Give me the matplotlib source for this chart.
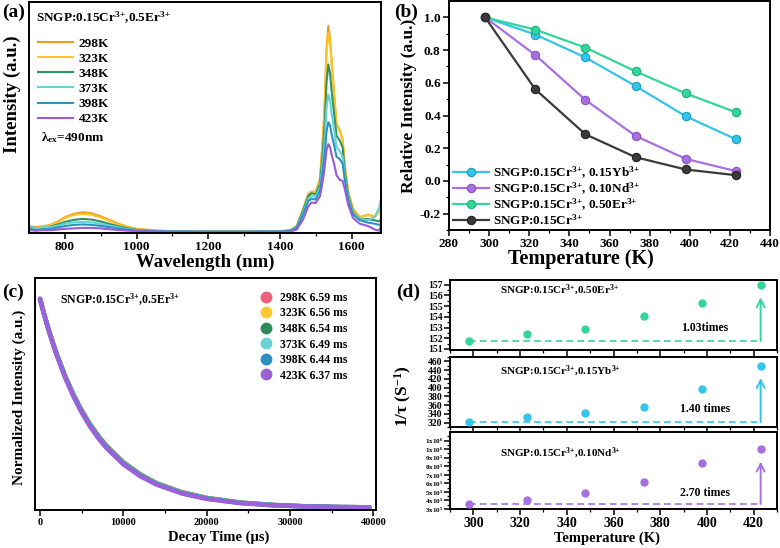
import numpy as np
import matplotlib
matplotlib.use("Agg")
import matplotlib.pyplot as plt
from matplotlib.lines import Line2D

plt.rcParams['font.family'] = ['Liberation Serif', 'DejaVu Serif']
plt.rcParams['font.weight'] = 'bold'
plt.rcParams['axes.labelweight'] = 'bold'
plt.rcParams['mathtext.fontset'] = 'custom'
plt.rcParams['mathtext.rm'] = 'Liberation Serif:bold'
plt.rcParams['mathtext.it'] = 'Liberation Serif:bold:italic'
plt.rcParams['mathtext.bf'] = 'Liberation Serif:bold'

# ---------------- data ----------------
temps_label = ['298K', '323K', '348K', '373K', '398K', '423K']
spec_colors = ['#F39A1C', '#FFC428', '#2E9460', '#62D3DA', '#2C93BE', '#9A5ADB']

wl = [700, 720, 740, 760, 780, 800, 825, 850, 875, 900, 925, 950, 975, 1000, 1050,
      1100, 1200, 1300, 1400, 1430, 1447, 1465, 1479, 1488, 1500, 1512, 1521, 1526,
      1530, 1535, 1540, 1544, 1551, 1558, 1567, 1575, 1581, 1591, 1604, 1623, 1646,
      1665, 1677, 1682]
I298 = [0.03, 0.025, 0.03, 0.035, 0.05, 0.068, 0.083, 0.09, 0.085, 0.072, 0.056, 0.04,
        0.027, 0.018, 0.011, 0.008, 0.006, 0.006, 0.007, 0.012, 0.03, 0.105, 0.168, 0.18,
        0.177, 0.235, 0.44, 0.6, 0.8, 0.896, 0.84, 0.75, 0.61, 0.47, 0.445, 0.405, 0.29,
        0.175, 0.105, 0.068, 0.08, 0.07, 0.10, 0.13]
I323 = [0.025, 0.02, 0.028, 0.033, 0.047, 0.064, 0.078, 0.083, 0.079, 0.067, 0.052,
        0.037, 0.025, 0.017, 0.01, 0.008, 0.006, 0.006, 0.007, 0.012, 0.03, 0.10, 0.165,
        0.178, 0.175, 0.232, 0.43, 0.59, 0.78, 0.865, 0.82, 0.74, 0.6, 0.465, 0.44, 0.40,
        0.285, 0.17, 0.1, 0.07, 0.078, 0.072, 0.09, 0.11]
I348 = [0.02, 0.018, 0.022, 0.027, 0.037, 0.048, 0.057, 0.061, 0.058, 0.05, 0.039,
        0.029, 0.02, 0.014, 0.009, 0.007, 0.006, 0.006, 0.007, 0.011, 0.028, 0.098, 0.16,
        0.172, 0.168, 0.215, 0.38, 0.5, 0.65, 0.73, 0.69, 0.62, 0.52, 0.42, 0.40, 0.37,
        0.265, 0.16, 0.09, 0.06, 0.06, 0.055, 0.05, 0.06]
I373 = [0.03, 0.02, 0.025, 0.025, 0.032, 0.04, 0.046, 0.048, 0.046, 0.04, 0.032, 0.024,
        0.017, 0.012, 0.008, 0.007, 0.006, 0.006, 0.007, 0.011, 0.025, 0.09, 0.148, 0.16,
        0.157, 0.2, 0.33, 0.43, 0.54, 0.60, 0.575, 0.52, 0.45, 0.37, 0.355, 0.33, 0.245,
        0.15, 0.085, 0.06, 0.055, 0.07, 0.11, 0.15]
I398 = [0.015, 0.012, 0.015, 0.018, 0.024, 0.03, 0.035, 0.037, 0.035, 0.031, 0.025,
        0.019, 0.014, 0.01, 0.007, 0.006, 0.005, 0.005, 0.006, 0.01, 0.022, 0.082, 0.138,
        0.148, 0.145, 0.185, 0.29, 0.36, 0.44, 0.48, 0.465, 0.43, 0.38, 0.33, 0.32, 0.30,
        0.23, 0.14, 0.08, 0.055, 0.045, 0.04, 0.035, 0.04]
I423 = [0.012, 0.01, 0.012, 0.012, 0.015, 0.018, 0.02, 0.022, 0.022, 0.02, 0.016,
        0.013, 0.01, 0.008, 0.006, 0.005, 0.005, 0.005, 0.005, 0.007, 0.015, 0.06, 0.115,
        0.132, 0.13, 0.16, 0.24, 0.3, 0.36, 0.385, 0.37, 0.34, 0.3, 0.25, 0.23, 0.225,
        0.19, 0.12, 0.065, 0.04, 0.03, 0.015, 0.01, 0.03]
spectra = [I298, I323, I348, I373, I398, I423]

T = [298, 323, 348, 373, 398, 423]
rel_yb = [1.0, 0.895, 0.755, 0.58, 0.395, 0.255]
rel_nd = [1.0, 0.77, 0.495, 0.275, 0.135, 0.06]
rel_er = [1.0, 0.925, 0.815, 0.67, 0.535, 0.42]
rel_cr = [1.0, 0.56, 0.285, 0.145, 0.07, 0.035]

t_decay = [0, 500, 1000, 1500, 2000, 3000, 4000, 5000, 6000, 7000, 8000, 10000, 12000,
           14000, 17000, 20000, 24000, 28000, 32000, 36000, 39500]
d298 = [1.0, 0.927, 0.859, 0.797, 0.738, 0.634, 0.545, 0.468, 0.402, 0.346, 0.297, 0.219,
        0.162, 0.119, 0.076, 0.048, 0.026, 0.014, 0.008, 0.004, 0.003]
d323 = [1.0, 0.927, 0.858, 0.796, 0.737, 0.633, 0.543, 0.466, 0.401, 0.344, 0.295, 0.218,
        0.161, 0.118, 0.075, 0.047, 0.026, 0.014, 0.008, 0.004, 0.003]
d348 = [1.0, 0.926, 0.858, 0.795, 0.736, 0.632, 0.542, 0.465, 0.399, 0.343, 0.294, 0.217,
        0.160, 0.117, 0.074, 0.047, 0.025, 0.014, 0.007, 0.004, 0.003]
d373 = [1.0, 0.926, 0.857, 0.794, 0.735, 0.630, 0.540, 0.463, 0.397, 0.340, 0.291, 0.214,
        0.157, 0.116, 0.073, 0.046, 0.025, 0.013, 0.007, 0.004, 0.003]
d398 = [1.0, 0.925, 0.856, 0.792, 0.733, 0.628, 0.537, 0.460, 0.394, 0.337, 0.289, 0.212,
        0.155, 0.114, 0.071, 0.045, 0.024, 0.013, 0.007, 0.004, 0.003]
d423 = [1.0, 0.924, 0.855, 0.790, 0.731, 0.624, 0.534, 0.456, 0.390, 0.333, 0.285, 0.208,
        0.152, 0.111, 0.069, 0.043, 0.023, 0.012, 0.007, 0.004, 0.003]
decays = [d298, d323, d348, d373, d398, d423]
lifetimes = ['6.59 ms', '6.56 ms', '6.54 ms', '6.49 ms', '6.44 ms', '6.37 ms']
decay_colors = ['#EF5F7A', '#FFC832', '#2E8B57', '#6AD3D3', '#2A8FBF', '#9C60D8']

inv_er = [151.75, 152.42, 152.88, 154.06, 155.28, 157.0]
inv_yb = [321, 332, 342.5, 355.5, 397.6, 450.5]
inv_nd = [3.6e5, 4.1e5, 4.9e5, 6.2e5, 8.33e5, 1.0e6]
nd_ticks = [3e5, 4e5, 5e5, 6e5, 7e5, 8e5, 9e5, 1.0e6, 1.1e6]
nd_ticklabels = ['3x10$^5$', '4x10$^5$', '5x10$^5$', '6x10$^5$', '7x10$^5$',
                 '8x10$^5$', '9x10$^5$', '1x10$^6$', '1x10$^6$']

c_yb = '#33C5EA'
c_nd = '#A76FE2'
c_er = '#33D69A'
c_cr = '#3A3A3A'

# ---------------- layout ----------------
W, H = 780, 548
fig = plt.figure(figsize=(W / 100, H / 100), dpi=100)


def rect(l, t, r, b):
    return [l / W, 1 - b / H, (r - l) / W, (b - t) / H]


def style(ax, size=8):
    for s in ax.spines.values():
        s.set_linewidth(1.4)
    ax.tick_params(direction='out', length=4, width=1.1, labelsize=size, pad=2)
    ax.tick_params(which='minor', direction='out', length=2, width=0.9)


def place_labels(ax, xpos, ypos):
    ax.xaxis.set_label_coords(*xpos)
    ax.xaxis.label.set_va('center')
    if ypos is not None:
        ax.yaxis.set_label_coords(*ypos)
        ax.yaxis.label.set_va('center')


# ---------------- (a) ----------------
axa = fig.add_axes(rect(29, 2, 381, 233))
style(axa, 9.5)
for y, c, lab in zip(spectra, spec_colors, temps_label):
    axa.plot(wl, y, color=c, lw=1.5, label=lab)
axa.set_xlim(700, 1682)
axa.set_ylim(0, 1)
axa.set_yticks([])
axa.set_xticks([800, 1000, 1200, 1400, 1600])
axa.set_xticks([900, 1100, 1300, 1500], minor=True)
axa.set_xlabel('Wavelength (nm)', fontsize=13.5)
axa.set_ylabel('Intensity (a.u.)', fontsize=13.5)
place_labels(axa, (0.5, -0.128), (-0.048, 0.6))
axa.text(0.02, 0.93, 'SNGP:0.15Cr$^{3{+}}$,0.5Er$^{3{+}}$', transform=axa.transAxes,
         fontsize=9.5, va='center')
axa.legend(loc='upper left', bbox_to_anchor=(0.025, 0.847), frameon=False, fontsize=9.5,
           handlelength=2.7, handletextpad=0.4, labelspacing=0.22, borderaxespad=0,
           borderpad=0)
axa.text(0.033, 0.415, 'λ$_{\\mathrm{ex}}$=490nm', transform=axa.transAxes,
         fontsize=9.5, va='center')
fig.text(2 / W, 1 - 12 / H, '(a)', fontsize=14, va='center')

# ---------------- (b) ----------------
axb = fig.add_axes(rect(449, 1, 770, 230))
style(axb, 9.5)
mk = dict(marker='o', ms=6, lw=1.6, mew=0.8)
axb.plot(T, rel_yb, color=c_yb, mec='#1E9CC0', label='SNGP:0.15Cr$^{3{+}}$, 0.15Yb$^{3{+}}$', **mk)
axb.plot(T, rel_nd, color=c_nd, mec='#8A52C6', label='SNGP:0.15Cr$^{3{+}}$, 0.10Nd$^{3{+}}$', **mk)
axb.plot(T, rel_er, color=c_er, mec='#20B07A', label='SNGP:0.15Cr$^{3{+}}$, 0.50Er$^{3{+}}$', **mk)
axb.plot(T, rel_cr, color=c_cr, mec='#222222', label='SNGP:0.15Cr$^{3{+}}$', **mk)
axb.set_xlim(280, 440)
axb.set_ylim(-0.3, 1.1)
axb.set_xticks(np.arange(280, 441, 20))
axb.set_xticks(np.arange(290, 440, 20), minor=True)
axb.set_yticks([-0.2, 0.0, 0.2, 0.4, 0.6, 0.8, 1.0])
axb.set_yticks([-0.3, -0.1, 0.1, 0.3, 0.5, 0.7, 0.9], minor=True)
axb.yaxis.set_major_formatter(matplotlib.ticker.FormatStrFormatter('%.1f'))
axb.set_xlabel('Temperature (K)', fontsize=14.5)
axb.set_ylabel('Relative Intensity (a.u.)', fontsize=12.5)
place_labels(axb, (0.41, -0.127), (-0.125, 0.54))
axb.legend(loc='lower left', bbox_to_anchor=(0.0, -0.008), frameon=False, fontsize=9.5,
           handlelength=2.7, handletextpad=0.3, labelspacing=0.0, borderaxespad=0.2,
           borderpad=0.1)
fig.text(394 / W, 1 - 12 / H, '(b)', fontsize=14, va='center')

# ---------------- (c) ----------------
axc = fig.add_axes(rect(35, 278, 376, 510))
style(axc, 7.5)
for y, c in zip(decays, decay_colors):
    axc.plot(t_decay, y, color=c, lw=3.2, solid_capstyle='round')
axc.set_xlim(-600, 40300)
axc.set_ylim(-0.01, 1.1)
axc.set_yticks([])
axc.set_xticks([0, 10000, 20000, 30000, 40000])
axc.set_xticks([5000, 15000, 25000, 35000], minor=True)
axc.set_xlabel('Decay Time (μs)', fontsize=10.5)
axc.set_ylabel('Normalized Intensity (a.u.)', fontsize=11)
place_labels(axc, (0.54, -0.116), (-0.047, 0.487))
axc.text(0.074, 0.905, 'SNGP:0.15Cr$^{3{+}}$,0.5Er$^{3{+}}$', transform=axc.transAxes,
         fontsize=8.5, va='center')
handles = [Line2D([], [], ls='none', marker='o', ms=7.5, color=c, mec=c) for c in decay_colors]
labels = [a + ' ' + b for a, b in zip(temps_label, lifetimes)]
axc.legend(handles, labels, loc='upper left', bbox_to_anchor=(0.665, 0.94), frameon=False,
           fontsize=8.5, handlelength=0.8, handletextpad=0.75, labelspacing=0.3,
           borderaxespad=0, borderpad=0)
fig.text(2 / W, 1 - 292 / H, '(c)', fontsize=14, va='center')

# ---------------- (d) ----------------
d_rows = [(inv_er, c_er, (280, 350), 'SNGP:0.15Cr$^{3{+}}$,0.50Er$^{3{+}}$', '1.03times',
           (150.9, 157.45), 0.85, 0.31),
          (inv_yb, c_yb, (357, 427), 'SNGP:0.15Cr$^{3{+}}$,0.15Yb$^{3{+}}$', '1.40 times',
           (311, 468), 0.80, 0.26),
          (inv_nd, c_nd, (432, 509), 'SNGP:0.15Cr$^{3{+}}$,0.10Nd$^{3{+}}$', '2.70 times',
           (3e5, 1.2e6), 0.72, 0.21)]
axes_d = []
for vals, c, (top, bot), name, ratio, ylim, ny, ry in d_rows:
    ax = fig.add_axes(rect(450, top, 777, bot))
    style(ax, 7)
    ax.plot(T, vals, ls='none', marker='o', ms=5, color=c, mec=c, zorder=3)
    ax.plot([T[0], T[-1]], [vals[0], vals[0]], ls='--', lw=1.2, color=c, dashes=(4, 2.5))
    ax.annotate('', xy=(T[-1], vals[-1]), xytext=(T[-1], vals[0]),
                arrowprops=dict(arrowstyle='->', color=c, lw=1.4, shrinkA=0, shrinkB=9,
                                mutation_scale=14))
    ax.set_xlim(290, 430)
    ax.set_ylim(*ylim)
    ax.set_xticks(np.arange(300, 421, 20))
    ax.set_xticks(np.arange(290, 431, 20), minor=True)
    ax.text(0.153, ny, name, transform=ax.transAxes, fontsize=8, va='center')
    ax.text(0.78, ry, ratio, transform=ax.transAxes, fontsize=8.5, va='center', ha='center')
    axes_d.append(ax)

axes_d[0].set_yticks(np.arange(151, 158, 1))
axes_d[0].set_yticks(np.arange(151.5, 157.5, 1), minor=True)
axes_d[1].set_yticks(np.arange(320, 461, 20))
axes_d[1].set_yticks(np.arange(310, 471, 10), minor=True)
axes_d[2].set_yticks(nd_ticks)
axes_d[2].set_yticklabels(nd_ticklabels)
axes_d[2].set_yticks(np.arange(3.5e5, 1.2e6, 1e5), minor=True)
for ax in axes_d[:2]:
    ax.tick_params(axis='y', labelsize=7, pad=1.5)
    ax.tick_params(axis='x', labelbottom=False)
axes_d[2].tick_params(axis='y', labelsize=5.0, pad=1)
axes_d[2].tick_params(axis='x', labelsize=10, pad=1.5)
axes_d[2].set_xlabel('Temperature (K)', fontsize=10.5)
place_labels(axes_d[2], (0.48, -0.38), None)
fig.text(403 / W, 1 - 396 / H, '1/τ (S$^{-1}$)', fontsize=12.5, rotation=90,
         va='center', ha='center')
fig.text(396 / W, 1 - 292 / H, '(d)', fontsize=14, va='center')

fig.savefig('out.png', dpi=100)
